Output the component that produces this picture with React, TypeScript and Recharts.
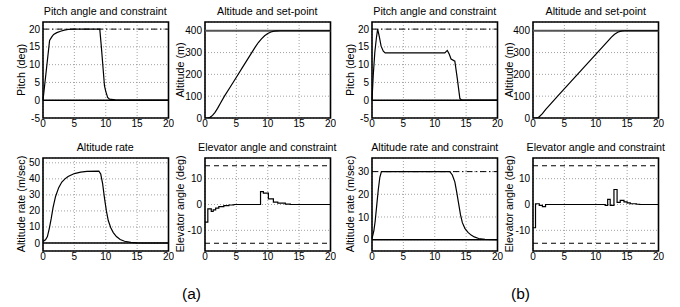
import { CartesianGrid, Line, LineChart, ReferenceArea, ReferenceLine, XAxis, YAxis } from "recharts"

const FONT = '"Liberation Sans", Arial, Helvetica, sans-serif'

/* ---------- axes ---------- */
const timeTicks = [0, 5, 10, 15, 20]
const pitchTicks = [-5, 0, 5, 10, 15, 20]
const altitudeTicks = [0, 100, 200, 300, 400]
const rateTicksA = [0, 10, 20, 30, 40, 50]
const rateTicksB = [0, 10, 20, 30]
const elevatorTicks = [-10, 0, 10]

/* ---------- constraints / set-points ---------- */
const pitchLimits = [0, 20]
const altitudeSetPoint = 400
const rateLimitsB = [0, 30]
const elevatorLimits = [-15, 15]

/* ---------- responses: [time (s), value] ---------- */
const pitchA: [number, number][] = [
  [0, 0], [1.05, 16.8], [1.4, 17.8], [1.7, 18.5], [2.2, 19], [2.8, 19.4], [3.4, 19.7], [4, 19.9], [5, 20],
  [9.05, 20], [9.3, 15], [9.55, 9.5], [9.8, 4], [10, 2.5], [10.3, 0.8], [10.6, 0.3], [11.5, 0.1], [12.5, 0], [20, 0],
]
const pitchB: [number, number][] = [
  [0, 0], [0.2, 7], [0.45, 13.5], [0.7, 17.5], [0.9, 20], [1.15, 18], [1.45, 15.2], [1.8, 13.8], [2.1, 13.3],
  [11.6, 13.3], [12, 14], [12.3, 13], [12.6, 11.6], [13.2, 11], [13.6, 6], [14, 0.5], [14.3, 0], [20, 0],
]
const altitudeA: [number, number][] = [
  [0, 0], [0.5, 0], [0.8, 3], [1.2, 12], [1.6, 26], [2, 44], [2.5, 70], [3.1, 100], [4, 141], [5, 187], [6, 233],
  [7, 279], [7.5, 302], [8, 325], [8.5, 346], [9, 363], [9.5, 377], [10, 387], [10.5, 394], [11, 398], [11.5, 399.5],
  [12, 400], [20, 400],
]
const altitudeB: [number, number][] = [
  [0, 0], [0.5, 0], [0.8, 2], [1, 6], [1.5, 20], [2, 38], [4, 103], [6, 166], [8, 229], [10, 292], [12, 355],
  [12.5, 371], [13, 384], [13.5, 393], [14, 398], [14.5, 400], [20, 400],
]
const rateA: [number, number][] = [
  [0, 1], [0.4, 2], [0.7, 4], [1, 9], [1.3, 15], [1.6, 22], [2, 29], [2.5, 34.5], [3, 38], [3.5, 40], [4, 41.5],
  [5, 43.3], [6, 44.2], [7, 44.6], [8.9, 44.8], [9.2, 43], [9.5, 37], [9.8, 28], [10.1, 20], [10.4, 14], [10.8, 9.5],
  [11.2, 6.5], [11.7, 4], [12.3, 2.2], [13, 1.1], [14, 0.4], [15, 0.1], [20, 0],
]
const rateB: [number, number][] = [
  [0, 0.5], [0.3, 4], [0.5, 8], [0.75, 15], [1, 22], [1.25, 27.5], [1.5, 30], [12.4, 30], [12.8, 28.5], [13.2, 25.5],
  [13.5, 21], [13.8, 16], [14.1, 11], [14.4, 7.5], [14.8, 5], [15.3, 3.2], [15.8, 2], [16.3, 1.2], [17, 0.5], [18, 0.1], [20, 0],
]
const elevatorA: [number, number][] = [
  [0, -6.8], [0.45, -1.7], [1, -2.7], [1.3, -2.1], [1.7, -1.4], [2.2, -0.8], [3, -0.4], [3.8, -0.2], [4.6, 0],
  [8.85, 5], [9.3, 4.4], [10.1, 2.2], [10.9, 0.9], [11.6, 0.5], [12.8, 0.15], [13.6, 0], [20, 0],
]
const elevatorB: [number, number][] = [
  [0, -9], [0.4, 0.3], [1, -0.3], [1.5, -0.8], [2, 0], [11.5, -0.3], [11.9, 2], [12.3, -0.3], [12.9, 5.8],
  [13.4, 0.8], [13.9, 1.6], [14.5, 1], [15, 0.6], [15.5, 0.3], [16.5, 0.1], [17, 0], [20, 0],
]

type Ref = { y: number; dash?: string; stroke?: string; width?: number }

const DASHDOT = "6 3 1.5 3"
const DASH = "5 4"

function Panel({
  x,
  y,
  w,
  h,
  title,
  ylabel,
  labelGap,
  data,
  step = false,
  yDomain,
  yTicks,
  refs,
}: {
  x: number
  y: number
  w: number
  h: number
  title: string
  ylabel: string
  labelGap: number
  data: [number, number][]
  step?: boolean
  yDomain: [number, number]
  yTicks: number[]
  refs: Ref[]
}) {
  const padL = 45
  const padT = 5
  const padR = 6
  const padB = 20
  const pts = data.map(([t, v]) => ({ t, v }))
  return (
    <>
      <div
        style={{
          position: "absolute",
          left: x + w / 2,
          top: y - 17,
          transform: "translateX(-50%)",
          fontSize: 10.7,
          lineHeight: "12px",
          whiteSpace: "nowrap",
        }}
      >
        {title}
      </div>
      <div
        style={{
          position: "absolute",
          left: x - labelGap,
          top: y + h / 2,
          transform: "translate(-50%, -50%) rotate(-90deg)",
          fontSize: 10.8,
          lineHeight: "12px",
          whiteSpace: "nowrap",
        }}
      >
        {ylabel}
      </div>
      <div style={{ position: "absolute", left: x - padL, top: y - padT }}>
        <LineChart width={w + padL + padR} height={h + padT + padB} margin={{ top: padT, right: padR, bottom: 0, left: 0 }}>
          <CartesianGrid stroke="#8a8a8a" strokeDasharray="1 2" strokeWidth={0.8} />
          <XAxis
            type="number"
            dataKey="t"
            domain={[0, 20]}
            ticks={timeTicks}
            interval={0}
            height={padB}
            axisLine={false}
            tickLine={false}
            tickSize={0}
            tickMargin={2}
            tick={{ fontSize: 10, fill: "#000" }}
          />
          <YAxis
            type="number"
            domain={yDomain}
            ticks={yTicks}
            interval={0}
            width={padL}
            axisLine={false}
            tickLine={false}
            tickSize={0}
            tickMargin={3}
            allowDataOverflow
            tick={{ fontSize: 10, fill: "#000" }}
          />
          {refs.map((r, i) => (
            <ReferenceLine
              key={i}
              y={r.y}
              stroke={r.stroke ?? "#000"}
              strokeWidth={r.width ?? 1}
              strokeDasharray={r.dash}
            />
          ))}
          <Line
            data={pts}
            dataKey="v"
            type={step ? "stepAfter" : "linear"}
            stroke="#000"
            strokeWidth={1.2}
            dot={false}
            isAnimationActive={false}
          />
          <ReferenceArea x1={0} x2={20} y1={yDomain[0]} y2={yDomain[1]} fill="none" stroke="#000" strokeWidth={1.6} />
        </LineChart>
      </div>
    </>
  )
}

const colX = [42.5, 204.5, 372, 533]
const W = 125.5
const rowTop = { y: 21.5, h: 96 }
const rowBot = { y: 157.5, h: 93 }

export default function App() {
  return (
    <div
      style={{
        position: "absolute",
        left: 0,
        top: 0,
        width: 680,
        height: 307,
        background: "#fff",
        fontFamily: FONT,
        color: "#000",
        overflow: "hidden",
      }}
    >
      <Panel
        x={colX[0]} y={rowTop.y} w={W} h={rowTop.h}
        title="Pitch angle and constraint" ylabel="Pitch (deg)" labelGap={22}
        data={pitchA} yDomain={[-5, 22]} yTicks={pitchTicks}
        refs={[{ y: pitchLimits[1], dash: DASHDOT }, { y: pitchLimits[0], width: 1.5 }]}
      />
      <Panel
        x={colX[1]} y={rowTop.y} w={W} h={rowTop.h}
        title="Altitude and set-point" ylabel="Altitude (m)" labelGap={24.5}
        data={altitudeA} yDomain={[0, 440]} yTicks={altitudeTicks}
        refs={[{ y: altitudeSetPoint, stroke: "#555", width: 2 }]}
      />
      <Panel
        x={colX[2]} y={rowTop.y} w={W} h={rowTop.h}
        title="Pitch angle and constraint" ylabel="Pitch (deg)" labelGap={22}
        data={pitchB} yDomain={[-5, 22]} yTicks={pitchTicks}
        refs={[{ y: pitchLimits[1], dash: DASHDOT }, { y: pitchLimits[0], width: 1.5 }]}
      />
      <Panel
        x={colX[3]} y={rowTop.y} w={W} h={rowTop.h}
        title="Altitude and set-point" ylabel="Altitude (m)" labelGap={24.5}
        data={altitudeB} yDomain={[0, 440]} yTicks={altitudeTicks}
        refs={[{ y: altitudeSetPoint, stroke: "#555", width: 2 }]}
      />
      <Panel
        x={colX[0]} y={rowBot.y} w={W} h={rowBot.h}
        title="Altitude rate" ylabel="Altitude rate (m/sec)" labelGap={22}
        data={rateA} yDomain={[-5, 53]} yTicks={rateTicksA}
        refs={[{ y: 0, width: 1.5 }]}
      />
      <Panel
        x={colX[1]} y={rowBot.y} w={W} h={rowBot.h}
        title="Elevator angle and constraint" ylabel="Elevator angle (deg)" labelGap={24.5}
        data={elevatorA} step yDomain={[-18, 18]} yTicks={elevatorTicks}
        refs={[{ y: elevatorLimits[1], dash: DASH }, { y: elevatorLimits[0], dash: DASH }]}
      />
      <Panel
        x={colX[2]} y={rowBot.y} w={W} h={rowBot.h}
        title="Altitude rate and constraint" ylabel="Altitude rate (m/sec)" labelGap={22}
        data={rateB} yDomain={[-5, 36]} yTicks={rateTicksB}
        refs={[{ y: rateLimitsB[1], dash: DASHDOT }, { y: rateLimitsB[0], width: 1.5 }]}
      />
      <Panel
        x={colX[3]} y={rowBot.y} w={W} h={rowBot.h}
        title="Elevator angle and constraint" ylabel="Elevator angle (deg)" labelGap={24.5}
        data={elevatorB} step yDomain={[-18, 18]} yTicks={elevatorTicks}
        refs={[{ y: elevatorLimits[1], dash: DASH }, { y: elevatorLimits[0], dash: DASH }]}
      />
      <div style={{ position: "absolute", left: 191.5, top: 294, transform: "translate(-50%, -50%)", fontSize: 15.5 }}>(a)</div>
      <div style={{ position: "absolute", left: 520.5, top: 294, transform: "translate(-50%, -50%)", fontSize: 15.5 }}>(b)</div>
    </div>
  )
}
